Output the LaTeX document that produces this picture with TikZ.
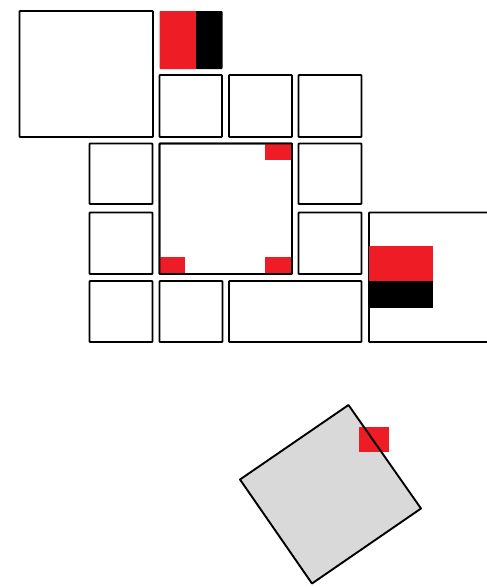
\documentclass[tikz,border=0pt]{standalone}
\definecolor{sred}{HTML}{EE1C25}
\definecolor{sgray}{HTML}{D9D9D9}
\tikzset{
  box/.style={draw=black, line width=1.9pt, fill=white, rounded corners=0.8pt},
  redpart/.style={fill=sred, draw=none},
  blackpart/.style={fill=black, draw=none},
}
\begin{document}
\begin{tikzpicture}[x=1pt,y=-1pt]
\useasboundingbox (0,0) rectangle (487,587);
\clip (0,0) rectangle (487,587);
% top-left big box
\draw[box] (19.5,11) rectangle (153,137);
% red/black block top
\fill[redpart, rounded corners=0.8pt] (159.5,11) rectangle (197,69);
\fill[blackpart, rounded corners=0.8pt] (196,11) rectangle (222.5,69);
% row 2
\draw[box] (159.5,75) rectangle (222,137);
\draw[box] (229,75) rectangle (292,137);
\draw[box] (298.5,75) rectangle (361.5,137);
% left column
\draw[box] (89.5,143.5) rectangle (152.5,204);
\draw[box] (89.5,212.5) rectangle (152.5,274);
\draw[box] (89.5,281) rectangle (152.5,342);
% central box
\draw[box] (159.5,143.5) rectangle (292,274);
\fill[redpart] (265,143.5) rectangle (292,160);
\fill[redpart] (159.5,257) rectangle (185,274);
\fill[redpart] (265,257) rectangle (292,274);
\draw[draw=black, line width=1.9pt, rounded corners=0.8pt] (159.5,143.5) rectangle (292,274);
% right column
\draw[box] (298.5,143.5) rectangle (361.5,204);
\draw[box] (298.5,212.5) rectangle (361.5,274);
% bottom row
\draw[box] (159.5,281) rectangle (222.5,342);
\draw[box] (229,281) rectangle (361.5,342);
% right clipped box
\draw[box] (369,212.5) rectangle (500,342);
\fill[redpart] (369,245.5) rectangle (432.5,281);
\fill[blackpart] (369,281) rectangle (432.5,307.5);
% rotated gray square
\fill[sgray] (348.5,405) -- (421,508.5) -- (312,583.5) -- (240,479.5) -- cycle;
\fill[redpart] (358.5,427) rectangle (388.5,452);
\draw[line width=1.9pt, line join=round] (348.5,405) -- (421,508.5) -- (312,583.5) -- (240,479.5) -- cycle;
\end{tikzpicture}
\end{document}
